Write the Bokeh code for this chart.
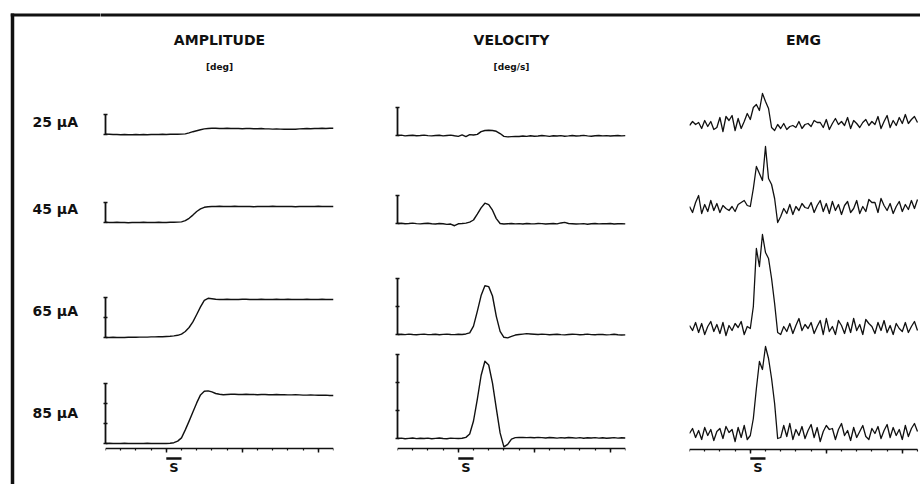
import numpy as np
from bokeh.plotting import figure
from bokeh.models import (Range1d, FixedTicker, SingleIntervalTicker,
                          CustomJSTickFormatter, LinearAxis)
from bokeh.layouts import row, column
from bokeh.embed import file_html
from bokeh.resources import INLINE
from bokeh.core.properties import value

# ------------------------------------------------------------------ data
currents_uA = [25, 45, 65, 85]
column_titles = ["AMPLITUDE", "VELOCITY", "EMG"]
column_units = ["[deg]", "[deg/s]"]
stim_label = "S"
stim_onset_ms = 0
stim_duration_ms = 20
t_start_ms = -80
t_end_ms = 220
mech_step_ms = 5
emg_step_ms = 4
time_major_ms = 100

# eye position amplitude (deg), sampled every 5 ms from -80 ms
amp_25 = [0.2, 0.1, 0.0, 0.0, -0.1, 0.0, -0.1, -0.1, 0.0, -0.1, 0.0, -0.1, 0.0, 0.0, 0.0, 0.1, 0.0, 0.1, 0.1, 0.1, 0.2,
          0.3, 0.8, 1.4, 1.9, 2.4, 2.8, 3.0,
          3.1, 3.1, 3.0, 3.0, 3.1, 3.0, 3.0, 3.0, 2.9, 3.0, 3.0, 2.9, 2.9, 3.0, 2.8, 2.8, 2.7, 2.8, 2.7, 2.6,
          2.6, 2.7, 2.6, 2.8, 2.9, 3.0, 2.9, 3.0, 3.0, 3.1, 3.0, 3.1, 3.1]
amp_45 = [0.1, 0.0, 0.0, 0.1, 0.0, 0.0, -0.1, 0.0, 0.0, 0.0, 0.1, 0.0, 0.0, 0.0, 0.1, 0.0, 0.0, 0.1, 0.1, 0.2,
          0.3, 0.9, 2.1, 3.7, 5.5, 6.8, 7.6, 7.9,
          8.0, 8.0, 8.1, 8.0, 8.0, 8.0, 8.1, 8.0, 8.0, 8.0, 8.0, 7.9, 8.0, 8.0, 8.0, 8.0, 8.1, 8.0, 8.0, 8.0,
          8.0, 8.0, 7.9, 8.0, 8.0, 8.0, 8.0, 8.0, 8.1, 8.0, 8.0, 8.0, 8.0]
amp_65 = [0.0, 0.0, 0.1, 0.0, 0.0, 0.0, 0.1, 0.1, 0.1, 0.2, 0.2, 0.2, 0.3, 0.3, 0.4, 0.4, 0.5, 0.6, 0.8, 1.1,
          1.7, 3.0, 5.0, 7.8, 11.5, 15.3, 18.6, 19.6, 19.4, 19.1,
          19.0, 19.0, 19.1, 19.0, 19.0, 19.0, 19.1, 19.1, 19.0, 19.0, 19.0, 19.1, 19.0, 19.0, 19.0, 19.1,
          19.0, 19.0, 19.1, 19.0, 19.0, 19.0, 19.0, 19.1, 19.0, 19.0, 19.0, 19.1, 19.0, 19.0, 19.0]
amp_85 = [0.0, 0.1, 0.0, 0.0, 0.0, 0.1, 0.0, 0.0, 0.0, 0.0, 0.0, 0.1, 0.0, 0.0, 0.0, 0.0, 0.0, 0.1,
          0.4, 1.2, 2.8, 6.8, 11.2, 15.8, 20.3, 24.3, 26.1, 26.3, 25.8, 25.0, 24.6, 24.4,
          24.5, 24.6, 24.6, 24.5, 24.5, 24.6, 24.5, 24.5, 24.4, 24.5, 24.5, 24.4, 24.4, 24.5, 24.4, 24.4,
          24.3, 24.3, 24.4, 24.3, 24.2, 24.2, 24.3, 24.2, 24.1, 24.1, 24.2, 24.0, 24.0]

# eye velocity (deg/s), sampled every 5 ms from -80 ms
vel_25 = [0, 3, -3, 0, 2, -2, 0, 3, -1, -3, 0, 2, -3, 0, 3, -2, -6, 4, -8, 6, 4,
          8, 28, 36, 37, 36, 30, 14, -6, -10,
          -8, -6, -7, -4, -6, -2, -5, -4, 0, -3, -6, -2, -4, -1, -5, -3, 0, -4, -2, 1, -3, -5,
          -2, 0, -3, -1, -4, -2, 0, -3, -1]
vel_45 = [0, 2, -2, 0, 3, -1, -3, 0, 2, -2, -4, 0, -2, -6, -4, -16, -2, 0, 3, 10,
          25, 67, 112, 145, 135, 95, 35, 0, -4,
          -2, 0, -3, -1, -4, 0, -2, -3, 0, -1, -4, -2, 0, -3, 4, 8, 0, -2, -4, -3, -1, -5,
          -2, 0, -3, -1, -2, 0, -4, -2, -1, -3]
vel_65 = [0, 2, -1, 3, 0, -2, 1, 3, -1, 0, 2, -2, 1, 3, 0, -1, 2, 0,
          4, 12, 60, 165, 278, 348, 342, 275, 130, 22, -20, -24, -14, -4,
          0, 3, 6, 4, 2, 0, 3, 1, -2, 0, 2, -1, -3, 0, 2, 1, -2, 0, 3, -1, -2, 1, 0, -3, -1,
          2, -2, -4, -3]
vel_85 = [0, 3, -2, 1, 4, -1, 2, 0, 3, -2, 1, 4, 0, -2, 3, 1, 0,
          2, 8, 32, 125, 280, 450, 552, 525, 395, 215, 40, -60, -42, -4, 6,
          7, 8, 6, 7, 5, 8, 6, 4, 7, 5, 3, 6, 4, 7, 5, 3, 6, 2, 5, 4, 6, 3, 5, 2, 4, 6, 3, 5, 4]

# rectified EMG (arbitrary units), sampled every 4 ms from -80 ms
emg_25 = [0, 4, 1, 3, -3, 5, -1, 4, -4, -2, 8, -6, 9, 5, 10, -5, 7, -3, 4, 12,
          6, 18, 21, 15, 32, 24, 17, -2, -5, 1,
          -3, 2, -4, -1, 0, -2, 4, -3, 1, 2, -1, 5, 3, 3, -2, 6, -4, 2, 7, 1,
          4, 0, 8, -3, 5, 2, -2, 3, 6, 0, 4, 1, 9, -3, 4, 10, -2, 5, 0, 8, 2, 11, 2, 6, 9, 3]
emg_45 = [2, -4, 6, 13, -5, 4, -3, 8, -2, 5, -4, 3, 0, -2, 2, -3, 4, 6, 8, 3,
          2, 20, 42, 35, 28, 62, 30, 24, 10, -14,
          -8, 0, -5, 4, -6, 2, -2, 5, 1, 0, 6, -4, 3, 8, -3, 5, -5, 7, -2, 4,
          -6, 3, 7, -4, 0, 8, -5, 2, -3, 9, 6, 6, -4, 10, 3, -2, 5, -5, 2, 7, -3, 4, -1, 8, 0, 9]
emg_65 = [3, -2, 6, -4, 5, -6, 2, 7, -3, 4, -5, 6, -7, 3, -2, 5, 1, 7, -6, 2,
          0, 22, 80, 62, 94, 76, 70, 50, 25, -4,
          -6, 2, -3, 5, -5, 3, 10, -2, 4, 0, 6, -5, 2, 8, -6, 10, -3, 2, -6, 8,
          3, -5, 6, -4, 10, -2, 4, -6, 9, 5, 2, -5, 6, -2, 8, -4, 3, -6, 5, 0, -3, 6, -4, 2, 7, -2]
emg_85 = [0, 5, -4, 3, -6, 6, -2, 4, -7, 2, 5, -5, 7, 1, 4, -8, 6, -4, 8, -6,
          -2, 15, 45, 72, 64, 87, 75, 55, 30, -5,
          -4, 8, -3, 10, -6, 4, -2, 7, -5, 3, 9, -4, 6, -8, 2, 8, 4, 5, -6, 4,
          10, -2, 3, -7, 6, -4, 2, 8, -3, -6, 5, 0, 7, -5, 3, 9, -4, 6, -2, 4, -6, 8, -3, 5, 10, 2]

# calibration bars (length and tick step)
amp_cal_deg = [10, 10, 20, 30]
amp_cal_step_deg = 10
vel_cal_dps = [200, 200, 400, 600]
vel_cal_step_dps = 200

amp_series = [amp_25, amp_45, amp_65, amp_85]
vel_series = [vel_25, vel_45, vel_65, vel_85]
emg_series = [emg_25, emg_45, emg_65, emg_85]

# ------------------------------------------------------------------ layout / style
FONT = "DejaVu Sans"
INK = "#111111"
PAGE_W, PAGE_H = 920, 484
PX_PER_MS = 0.76
PX_PER_UNIT = {"amp": 2.0, "vel": 0.14, "emg": 1.0}
ROW_TOP = [90, 140, 228, 342]
ROW_H = [50, 88, 114, 142]
BASE_PX = {"amp": [134, 222, 337, 443], "vel": [135, 223, 334, 438], "emg": [125, 208, 328, 433]}
AXIS_PX = {"amp": 448, "vel": 448, "emg": 449}
STIM_BAR_PX = 458
STIM_TEXT_PX = 467
COLS = {"amp": dict(x0=100, w=292, bl=5, br=59),
        "vel": dict(x0=392, w=292, bl=5, br=59),
        "emg": dict(x0=684, w=236, bl=5, br=2)}
LABEL_W = 100
HEADER_H = 90
TITLE_Y_PX = 39
UNIT_Y_PX = 66.5
ROW_LABEL_X_PX = 32
ROW_LABEL_Y_PX = [121.5, 208, 310.5, 412]
BORDER_X_PX = 12
BORDER_Y_PX = 14.5

for s in amp_series + vel_series:
    assert len(s) == (t_end_ms - t_start_ms) // mech_step_ms + 1
for s in emg_series:
    assert len(s) == (t_end_ms - t_start_ms) // emg_step_ms + 1

t_mech = t_start_ms + mech_step_ms * np.arange(len(amp_25))
t_emg = t_start_ms + emg_step_ms * np.arange(len(emg_25))


def blank(width, height, x_range, y_range, **borders):
    p = figure(width=width, height=height, x_range=x_range, y_range=y_range,
               output_backend="svg", toolbar_location=None,
               x_axis_location=None, y_axis_location=None,
               min_border_left=borders.get("bl", 0), min_border_right=borders.get("br", 0),
               min_border_top=0, min_border_bottom=0)
    p.grid.visible = False
    p.outline_line_color = None
    p.background_fill_color = "white"
    p.border_fill_color = "white"
    return p


def hidden_labels(axis):
    axis.formatter = CustomJSTickFormatter(code="return ''")
    axis.major_label_text_font_size = "0px"
    axis.major_label_standoff = 0
    axis.axis_label = None


def panel(kind, r, t, v):
    c = COLS[kind]
    H = ROW_H[r]
    b = BASE_PX[kind][r] - ROW_TOP[r]
    s = PX_PER_UNIT[kind]
    frame_w = c["w"] - c["bl"] - c["br"]
    to_data = lambda ypx: (BASE_PX[kind][r] - ypx) / s
    p = blank(c["w"], H, Range1d(t_start_ms, t_start_ms + frame_w / PX_PER_MS),
              Range1d(-(H - b) / s, b / s), bl=c["bl"], br=c["br"])
    p.line(t, v, color=INK, line_width=1.4 if kind != "emg" else 1.3, line_join="round")

    if kind in ("amp", "vel"):
        cal = amp_cal_deg[r] if kind == "amp" else vel_cal_dps[r]
        step = amp_cal_step_deg if kind == "amp" else vel_cal_step_dps
        ya = LinearAxis(bounds=(0, cal),
                        ticker=FixedTicker(ticks=list(range(0, cal + 1, step)), minor_ticks=[]),
                        axis_line_color=INK, axis_line_width=1.8,
                        major_tick_line_color=INK, major_tick_line_width=1.5,
                        major_tick_in=2, major_tick_out=2,
                        minor_tick_in=0, minor_tick_out=0)
        hidden_labels(ya)
        p.add_layout(ya, "left")

    if r == len(currents_uA) - 1:
        xa = LinearAxis(fixed_location=to_data(AXIS_PX[kind]), bounds=(t_start_ms, t_end_ms),
                        ticker=SingleIntervalTicker(interval=time_major_ms, num_minor_ticks=5),
                        axis_line_color=INK, axis_line_width=1.6,
                        major_tick_line_color=INK, major_tick_line_width=1.5,
                        minor_tick_line_color=INK, minor_tick_line_width=1.2,
                        major_tick_in=0, major_tick_out=4, minor_tick_in=0, minor_tick_out=2)
        hidden_labels(xa)
        p.add_layout(xa, "below")
        ys = to_data(STIM_BAR_PX)
        p.segment(x0=[stim_onset_ms], y0=[ys], x1=[stim_onset_ms + stim_duration_ms], y1=[ys],
                  color=INK, line_width=2.6)
        p.text(x=[stim_onset_ms + stim_duration_ms / 2], y=[to_data(STIM_TEXT_PX)], text=[stim_label],
               text_align="center", text_baseline="middle", text_color=INK,
               text_font=value(FONT), text_font_style="bold", text_font_size="13px")
    return p


bx = BORDER_X_PX
by = BORDER_Y_PX

# left strip: full-height frame line and stimulus-current labels (page pixel coordinates)
labels = blank(LABEL_W, PAGE_H, Range1d(0, LABEL_W), Range1d(PAGE_H, 0))
labels.segment(x0=[bx], y0=[by - 1.5], x1=[bx], y1=[PAGE_H + 6], color=INK, line_width=3.5)
labels.segment(x0=[bx - 1.75], y0=[by], x1=[LABEL_W + 6], y1=[by], color=INK, line_width=3)
labels.text(x=[ROW_LABEL_X_PX] * len(currents_uA), y=ROW_LABEL_Y_PX,
            text=[f"{c} µA" for c in currents_uA],
            text_align="left", text_baseline="middle", text_color=INK,
            text_font=value(FONT), text_font_style="bold", text_font_size="14px")

# header: top frame line and column titles
head_w = PAGE_W - LABEL_W
header = blank(head_w, HEADER_H, Range1d(LABEL_W, PAGE_W), Range1d(HEADER_H, 0))
header.segment(x0=[LABEL_W - 6], y0=[by], x1=[PAGE_W + 6], y1=[by], color=INK, line_width=3)
title_x = [COLS[k]["x0"] + COLS[k]["bl"] + (0.5 * (t_end_ms + t_start_ms) - t_start_ms) * PX_PER_MS
           for k in ("amp", "vel", "emg")]
header.text(x=title_x, y=[TITLE_Y_PX] * 3, text=column_titles,
            text_align="center", text_baseline="middle", text_color=INK,
            text_font=value(FONT), text_font_style="bold", text_font_size="14px")
header.text(x=title_x[:2], y=[UNIT_Y_PX] * 2, text=column_units,
            text_align="center", text_baseline="middle", text_color=INK,
            text_font=value(FONT), text_font_style="bold", text_font_size="9px")

rows = []
for r in range(len(currents_uA)):
    rows.append(row(panel("amp", r, t_mech, amp_series[r]),
                    panel("vel", r, t_mech, vel_series[r]),
                    panel("emg", r, t_emg, emg_series[r])))

layout = row(labels, column(header, *rows))

open("out.html", "w").write(file_html(layout, INLINE))
